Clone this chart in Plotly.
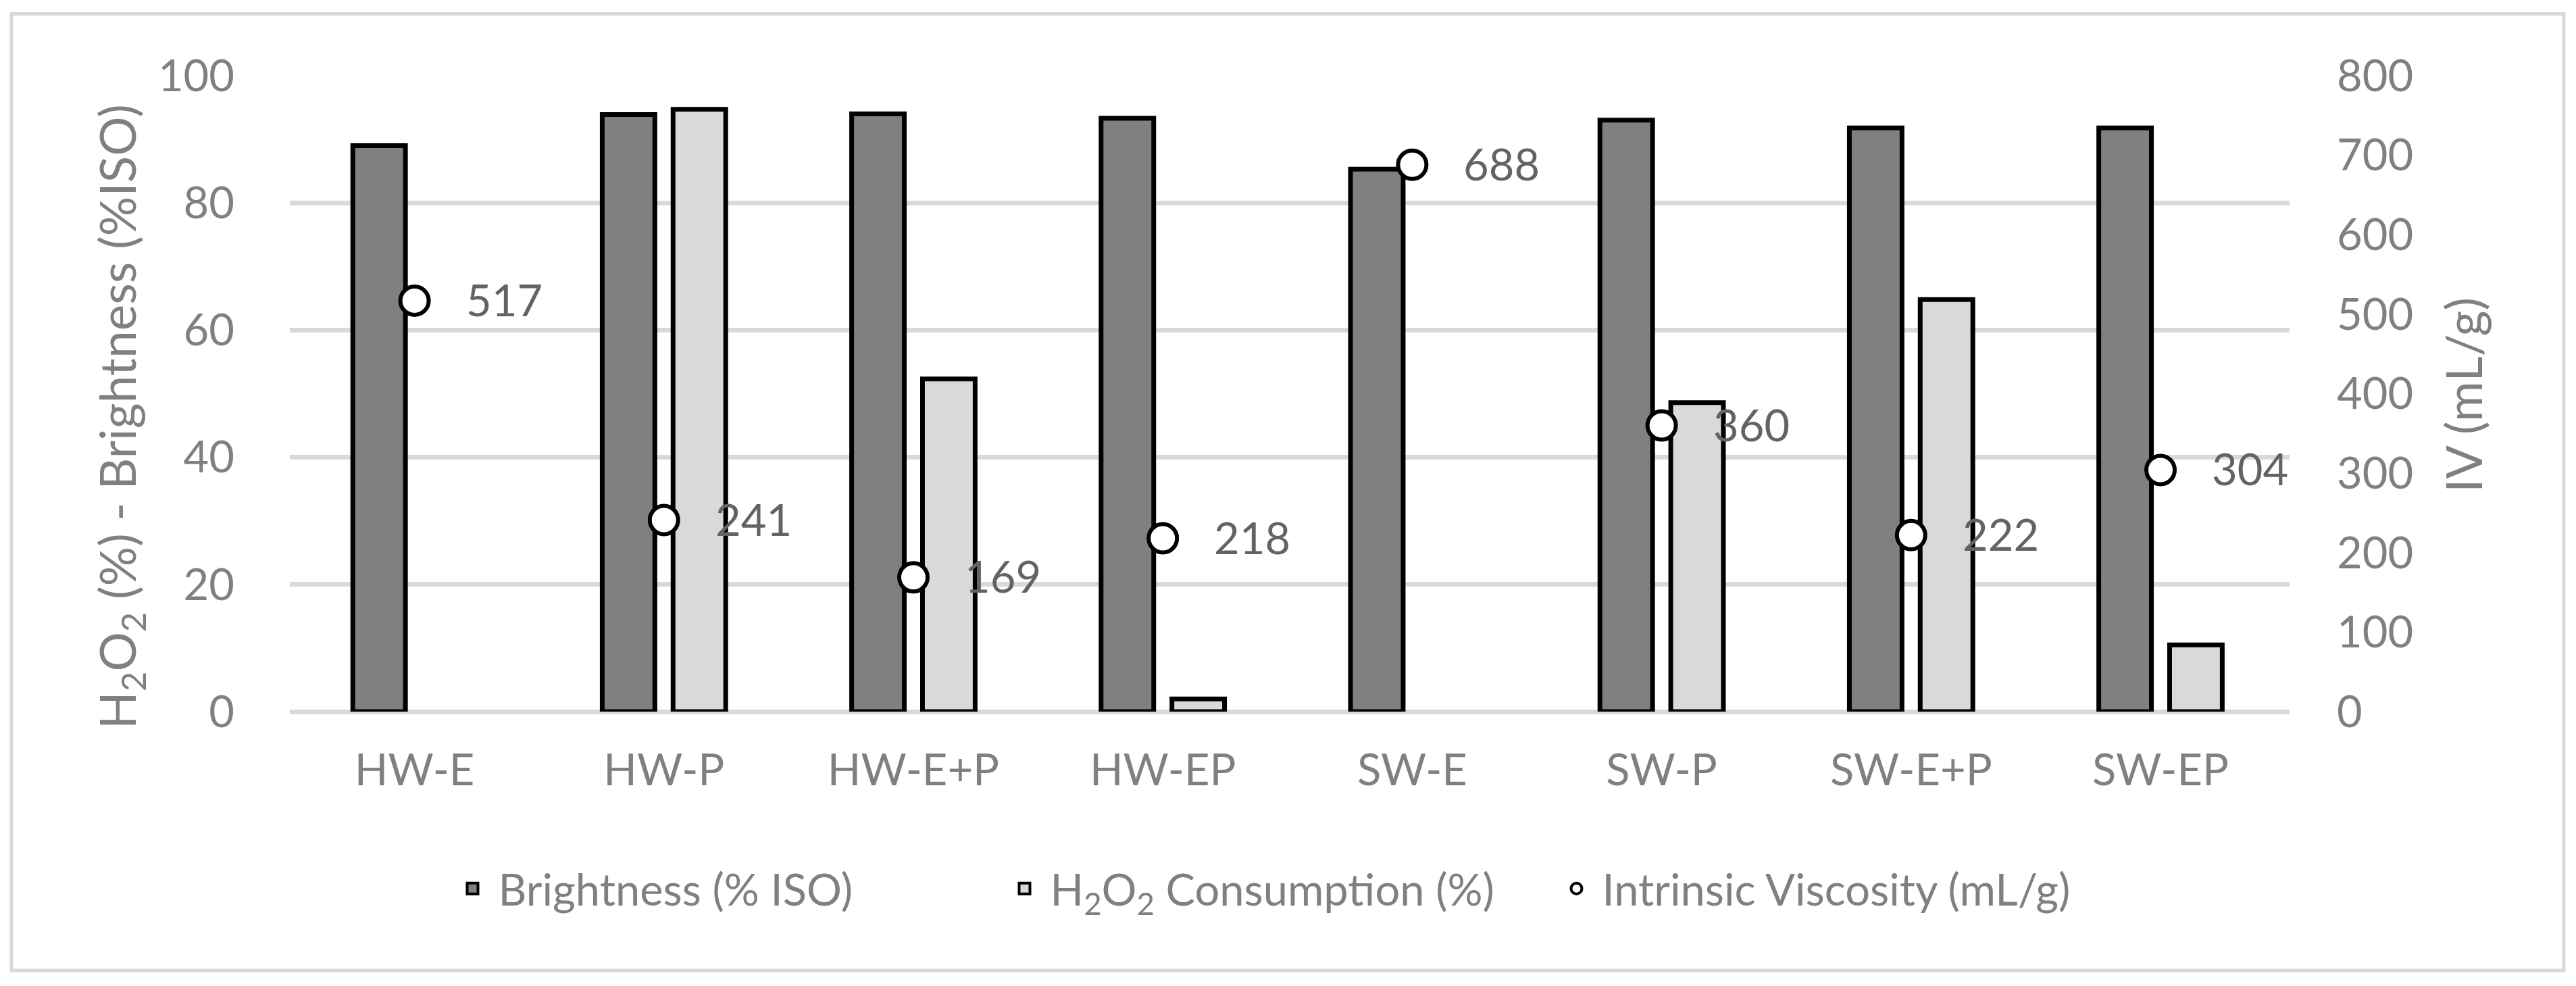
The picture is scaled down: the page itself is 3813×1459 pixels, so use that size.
import plotly.graph_objects as go

# ---- data ----
categories = ["HW-E", "HW-P", "HW-E+P", "HW-EP", "SW-E", "SW-P", "SW-E+P", "SW-EP"]
brightness = [89.0, 93.9, 94.0, 93.3, 85.3, 93.0, 91.8, 91.8]
h2o2 = [None, 94.7, 52.3, 2.0, None, 48.6, 64.8, 10.5]
iv = [517, 241, 169, 218, 688, 360, 222, 304]
left_ticks = [0, 20, 40, 60, 80, 100]
right_ticks = [0, 100, 200, 300, 400, 500, 600, 700, 800]

name_b = "Brightness (% ISO)"
name_h = "H<sub>2</sub>O<sub>2</sub> Consumption (%)"
name_iv = "Intrinsic Viscosity (mL/g)"

FONT = "Lato"
GRAY = "#808080"
LABEL = "#636363"
GRID = "#d9d9d9"
FS = 65

W, H = 3797, 1443
ML, MR, MT, MB = 421, 416, 104, 398
PW = W - ML - MR
PH = H - MT - MB

fig = go.Figure()

fig.add_trace(go.Bar(
    x=categories, y=brightness, name=name_b, yaxis="y",
    marker=dict(color="#808080", line=dict(color="#000000", width=7)),
    showlegend=False,
))
fig.add_trace(go.Bar(
    x=categories, y=h2o2, name=name_h, yaxis="y",
    marker=dict(color="#d9d9d9", line=dict(color="#000000", width=7)),
    showlegend=False,
))
fig.add_trace(go.Scatter(
    x=categories, y=iv, name=name_iv, yaxis="y2", mode="markers",
    marker=dict(symbol="circle", size=42, color="#ffffff",
                line=dict(color="#000000", width=6)),
    showlegend=False, cliponaxis=False,
))

# legend entries
fig.add_trace(go.Scatter(
    x=[None], y=[None], name=name_b, mode="markers",
    marker=dict(symbol="square", size=16, color="#808080",
                line=dict(color="#000000", width=4)),
))
fig.add_trace(go.Scatter(
    x=[None], y=[None], name=name_h, mode="markers",
    marker=dict(symbol="square", size=16, color="#d9d9d9",
                line=dict(color="#000000", width=4)),
))
fig.add_trace(go.Scatter(
    x=[None], y=[None], name=name_iv, mode="markers",
    marker=dict(symbol="circle", size=16, color="#ffffff",
                line=dict(color="#000000", width=4)),
))

def px_x(fx):
    return (fx - ML) / PW

def px_y(fy):
    return (MT + PH - fy) / PH

# data labels for IV, placed via the axes
annotations = [
    dict(x=c, y=v, xref="x", yref="y2", text=str(v), showarrow=False,
         xanchor="left", yanchor="middle", xshift=74, yshift=2,
         font=dict(family=FONT, size=FS, color=LABEL))
    for c, v in zip(categories, iv)
]
annotations += [
    dict(text="H<sub>2</sub>O<sub>2</sub> (%) - Brightness (%ISO)",
         xref="paper", yref="paper", x=px_x(170), y=px_y(609),
         xanchor="center", yanchor="middle", textangle=-90, showarrow=False,
         font=dict(family=FONT, size=73, color=GRAY)),
    dict(text="IV (mL/g)",
         xref="paper", yref="paper", x=px_x(3638), y=px_y(577),
         xanchor="center", yanchor="middle", textangle=-90, showarrow=False,
         font=dict(family=FONT, size=73, color=GRAY)),
]

fig.update_layout(
    width=W, height=H,
    margin=dict(l=ML, r=MR, t=MT, b=MB, pad=0),
    paper_bgcolor="#ffffff", plot_bgcolor="#ffffff",
    font=dict(family=FONT, size=FS, color=GRAY),
    barmode="group", bargap=0.432, bargroupgap=0.257,
    xaxis=dict(
        type="category", categoryorder="array", categoryarray=categories,
        showgrid=False, zeroline=False, showline=False,
        ticks="outside", ticklen=30, tickcolor="rgba(0,0,0,0)",
        tickfont=dict(family=FONT, size=FS, color=GRAY),
    ),
    yaxis=dict(
        range=[0, 100], tickvals=left_ticks, ticktext=[str(v) for v in left_ticks],
        showgrid=True, gridcolor=GRID, gridwidth=7,
        zeroline=True, zerolinecolor=GRID, zerolinewidth=7,
        showline=False,
        ticks="outside", ticklen=68, tickcolor="rgba(0,0,0,0)",
        tickfont=dict(family=FONT, size=FS, color=GRAY),
    ),
    yaxis2=dict(
        range=[0, 800], tickvals=right_ticks, ticktext=[str(v) for v in right_ticks],
        overlaying="y", side="right",
        showgrid=False, zeroline=False, showline=False,
        ticks="outside", ticklen=56, tickcolor="rgba(0,0,0,0)",
        tickfont=dict(family=FONT, size=FS, color=GRAY),
    ),
    legend=dict(
        orientation="h", x=px_x(1879), xanchor="center",
        y=px_y(1307), yanchor="middle",
        entrywidth=736, entrywidthmode="pixels", itemwidth=66,
        font=dict(family=FONT, size=FS, color=GRAY),
        bgcolor="rgba(0,0,0,0)",
    ),
    showlegend=True,
    annotations=annotations,
    shapes=[
        dict(type="rect", xref="paper", yref="paper",
             x0=px_x(9), x1=px_x(3787), y0=px_y(1428), y1=px_y(12.5),
             line=dict(color=GRID, width=5), fillcolor="rgba(0,0,0,0)", layer="below"),
    ],
)

fig.write_html("out.html")
